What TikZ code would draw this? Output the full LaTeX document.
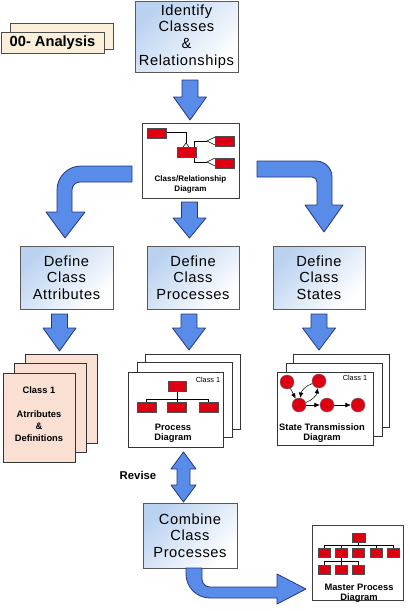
\documentclass[tikz,border=0pt]{standalone}
\usepackage{fontspec}
\setmainfont{Liberation Sans}
\newfontfamily\spacedfont[LetterSpace=4]{Liberation Sans}
\usetikzlibrary{arrows.meta}
\definecolor{arrowblue}{RGB}{88,140,232}
\definecolor{arrowline}{RGB}{35,55,125}
\definecolor{boxblue}{RGB}{186,210,240}
\definecolor{tabcream}{RGB}{250,240,218}
\definecolor{sheetpeach}{RGB}{250,224,210}
\definecolor{boxred}{RGB}{222,0,18}
\tikzset{
  bluebox/.style={draw=black!65, line width=0.75pt, top color=boxblue, bottom color=white, shading angle=45,
    inner sep=0pt, align=center, font=\spacedfont\fontsize{11}{12.5}\selectfont},
  whitebox/.style={draw=black!75, fill=white, line width=0.6pt, inner sep=0pt},
  sheet/.style={draw=black!80, fill=white, line width=0.6pt, inner sep=0pt},
  tab/.style={draw=black!70, fill=tabcream, line width=0.75pt, inner sep=0pt, font=\bfseries\fontsize{11}{13}\selectfont},
  blockarrow/.style={draw=arrowline, fill=arrowblue, line width=0.6pt, line join=round},
  minired/.style={draw=black!70, fill=boxred, line width=0.3pt},
  stnode/.style={circle, draw=black!60, fill=boxred, minimum size=10.5pt, inner sep=0pt, line width=0.3pt},
  smalltxt/.style={inner sep=0pt, align=center, font=\bfseries\fontsize{7}{7.5}\selectfont},
  tinytxt/.style={inner sep=0pt, font=\fontsize{5.5}{6}\selectfont},
  stedge/.style={-{Latex[length=4pt,width=3.5pt]}, line width=0.4pt}
}
% x, top, head, tip
\newcommand{\downblock}[4]{%
  \draw[blockarrow] (#1-8,#2) -- (#1+8,#2) -- (#1+8,#3) -- (#1+16.5,#3) -- (#1,#4)
    -- (#1-16.5,#3) -- (#1-8,#3) -- cycle;}

\begin{document}
\begin{tikzpicture}[x=0.75pt, y=-0.75pt]
	\useasboundingbox (0,0) rectangle (410,611);
	% onglet
	\node[tab, minimum width=77.25pt, minimum height=19.5pt] (anaback) at (61.5,36) {};
	\node[tab, minimum width=77.25pt, minimum height=15.75pt] (ana) at (52.5,42.5) {00- Analysis};
	% haut
	\node[bluebox, minimum width=77.25pt, minimum height=53.25pt] (ident) at (186.5,36.5) {Identify\\Classes\\\&\\Relationships};
	\downblock{190}{80}{97}{120}
	\node[whitebox, minimum width=72.75pt, minimum height=56.25pt] (classrel) at (190.5,160.5) {};
	\draw[line width=0.4pt] (166,132) -- (186,132) -- (186,143);
	\draw[line width=0.4pt, fill=white] (183,147) -- (186,143) -- (189,147);
	\draw[line width=0.4pt] (207,141) -- (194,141) -- (194,162) -- (207,162);
	\draw[line width=0.4pt, fill=white] (215,137) -- (207,141) -- (215,145);
	\draw[line width=0.4pt, fill=white] (215,158) -- (207,162) -- (215,166);
	\draw[minired] (147,128) rectangle (166,138);
	\draw[minired] (177,147) rectangle (196,157);
	\draw[minired] (215,136) rectangle (234,146);
	\draw[minired] (215,158) rectangle (234,168);
	\node[smalltxt, font=\bfseries\fontsize{6}{7.5}\selectfont] (classreltxt) at (190.5,184) {Class/Relationship\\Diagram};
	% fleches
	\draw[blockarrow] (132,166) -- (81,166) arc[start angle=270, end angle=180, radius=24] -- (57,212) -- (46,212)
	  -- (65,238) -- (85,212) -- (72,212) -- (72,190) arc[start angle=180, end angle=270, radius=8] -- (132,182) -- cycle;
	\downblock{189.5}{202}{218}{238}
	\draw[blockarrow] (257,161) -- (316,161) arc[start angle=-90, end angle=0, radius=16] -- (332,205) -- (343,205)
	  -- (324,232) -- (305,205) -- (317,205) -- (317,182) arc[start angle=0, end angle=-90, radius=5] -- (257,177) -- cycle;
	% define
	\node[bluebox, minimum width=69.75pt, minimum height=47.25pt] (attr) at (66.5,277.5) {Define\\Class\\Attributes};
	\node[bluebox, minimum width=69pt, minimum height=47.25pt] (proc) at (193,277.5) {Define\\Class\\Processes};
	\node[bluebox, minimum width=69pt, minimum height=47.25pt] (states) at (319,277.5) {Define\\Class\\States};
	\downblock{59.5}{314}{328}{351}
	\downblock{189}{314}{328}{350}
	\downblock{319}{314}{328}{350}
	% attributs
	\node[sheet, fill=sheetpeach, minimum width=54pt, minimum height=66.75pt] (attrdoc3) at (61.5,398.5) {};
	\node[sheet, fill=sheetpeach, minimum width=54pt, minimum height=66.75pt] (attrdoc2) at (50,407.5) {};
	\node[sheet, fill=sheetpeach, minimum width=54pt, minimum height=66.75pt] (attrdoc) at (39,417.5) {};
	\node[smalltxt, font=\bfseries\fontsize{7}{9}\selectfont] (attrtxt) at (39,414) {Class 1\\[9pt]Atrributes\\\&\\Definitions};
	% processus
	\node[sheet, minimum width=71.25pt, minimum height=56.25pt] (procdoc3) at (193,391.5) {};
	\node[sheet, minimum width=71.25pt, minimum height=56.25pt] (procdoc2) at (185,400) {};
	\node[sheet, minimum width=71.25pt, minimum height=56.25pt] (procdoc) at (175.5,409.5) {};
	\node[tinytxt] (proccls) at (208,380) {Class 1};
	\draw[line width=0.4pt] (177,391) -- (177,402) (146.5,402) -- (146.5,399) -- (208.5,399) -- (208.5,402);
	\draw[minired] (168,381) rectangle (186,391);
	\draw[minired] (137,402) rectangle (156,412);
	\draw[minired] (167,402) rectangle (186,412);
	\draw[minired] (199,402) rectangle (218,412);
	\node[smalltxt] (proctxt) at (173,433) {Process\\Diagram};
	% etats
	\node[sheet, minimum width=72pt, minimum height=54.75pt] (statedoc3) at (341,391) {};
	\node[sheet, minimum width=72pt, minimum height=54.75pt] (statedoc2) at (334,400) {};
	\node[sheet, minimum width=72pt, minimum height=54.75pt] (statedoc) at (325,408.5) {};
	\node[tinytxt] (statecls) at (355,378) {Class 1};
	\node[stnode] (s1) at (287,382) {};
	\node[stnode] (s2) at (319,381) {};
	\node[stnode] (s3) at (299,405) {};
	\node[stnode] (s4) at (327,405) {};
	\node[stnode] (s5) at (358,405) {};
	\draw[stedge] (s1) -- (s3);
	\draw[stedge] (s2) to[bend right=30] (s3);
	\draw[stedge] (s3) to[bend right=30] (s2);
	\draw[stedge] (s3) -- (s4);
	\draw[stedge] (s4) -- (s5);
	\node[smalltxt] (statetxt) at (322,433.5) {State Transmission\\Diagram};
	% revise
	\draw[blockarrow] (183.5,452) -- (196,469) -- (190,469) -- (190,485) -- (196,485) -- (183.5,502)
	  -- (171,485) -- (177,485) -- (177,469) -- (171,469) -- cycle;
	\node[inner sep=0pt, font=\bfseries\fontsize{8.5}{10}\selectfont] (revise) at (138,475) {Revise};
	% combine
	\node[bluebox, minimum width=70.5pt, minimum height=48.75pt] (comb) at (190,535.5) {Combine\\Class\\Processes};
	\draw[blockarrow] (186,568) -- (186,574) arc[start angle=180, end angle=90, radius=24] -- (277,598) -- (277,604)
	  -- (306,589) -- (277,574) -- (277,587) -- (210,587) arc[start angle=90, end angle=180, radius=8] -- (202,568) -- cycle;
	% master
	\node[whitebox, minimum width=68.25pt, minimum height=56.25pt] (master) at (357.5,562.5) {};
	\draw[line width=0.4pt] (358.5,542) -- (358.5,545) (324,548) -- (324,545) -- (393,545) -- (393,548)
	  (341,545) -- (341,548) (376,545) -- (376,548);
	\draw[line width=0.4pt] (341,557) -- (341,565) (324,565) -- (324,561) -- (358.5,561) -- (358.5,565);
	\draw[minired] (352,533) rectangle (365,542);
	\foreach \xa in {318,335,352,370,387}
	  \draw[minired] (\xa,548) rectangle (\xa+12,557);
	\foreach \xa in {318,335,352}
	  \draw[minired] (\xa,565) rectangle (\xa+12,574);
	\node[smalltxt] (mastertxt) at (359,593) {Master Process\\Diagram};
\end{tikzpicture}
\end{document}
